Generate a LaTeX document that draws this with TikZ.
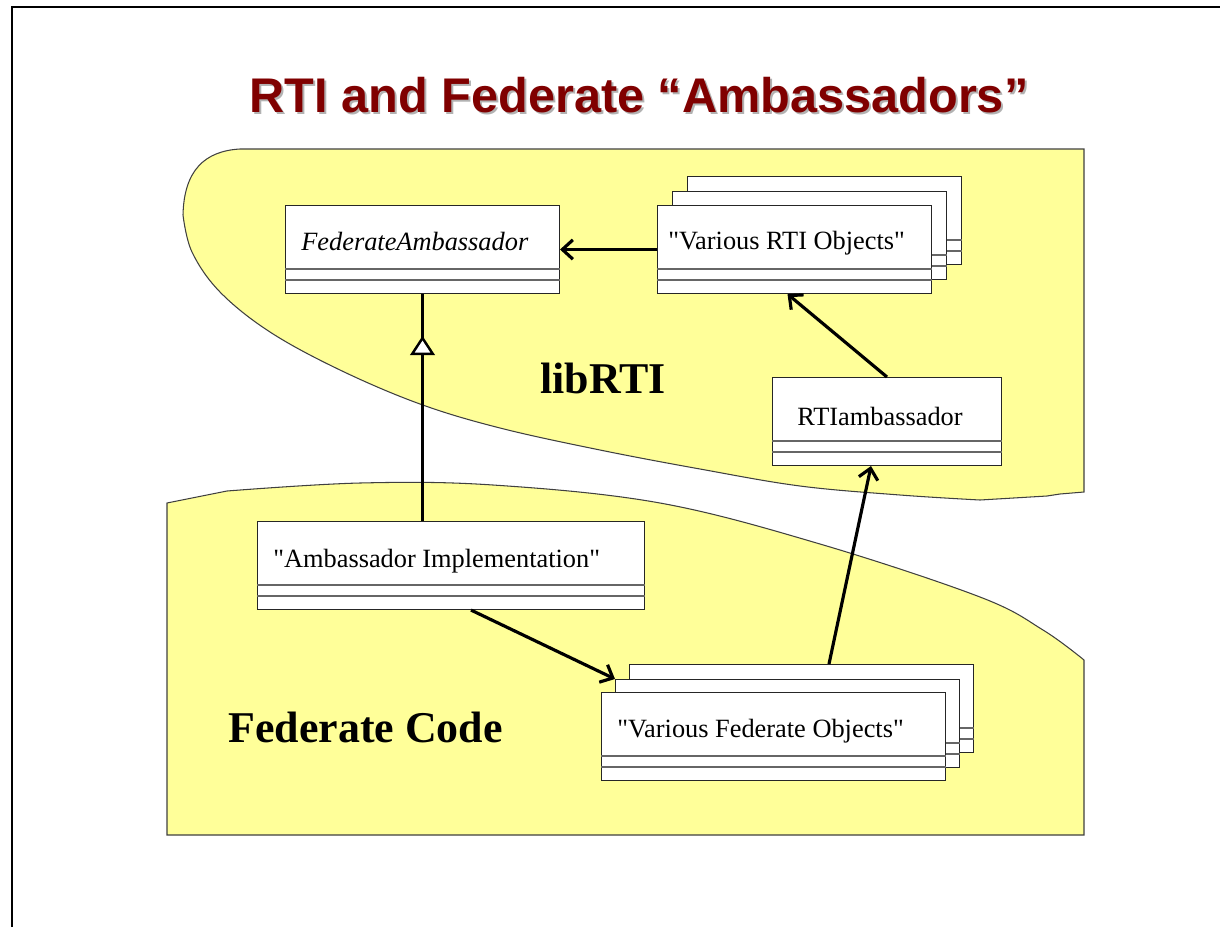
\documentclass[tikz,border=0pt]{standalone}
\usepackage{fontspec}
\setmainfont{Liberation Serif}
\newfontfamily\titlefont{Liberation Sans}
\usetikzlibrary{arrows.meta,decorations.markings}
\definecolor{pad}{HTML}{FFFF99}
\definecolor{maroon}{HTML}{800000}
\tikzset{region/.style={fill=pad,draw=black!75,line width=.6pt},
  cls/.style={draw=black!85,fill=white,line width=.6pt,minimum height=1.76cm,anchor=north west,inner sep=0pt},
  cmp/.style={draw=black!60,line width=.7pt},
  ctext/.style={anchor=base west,inner sep=0pt,font=\fontsize{15}{18}\selectfont},
  area/.style={anchor=base west,inner sep=0pt,font=\bfseries\fontsize{25}{30}\selectfont},
  ttl/.style={anchor=base,inner sep=0pt,font=\titlefont\bfseries\fontsize{27.7}{33}\selectfont},
  link/.style={line width=1.8pt,-{Straight Barb[length=6pt,width=11pt]}},
  gen/.style={line width=1.8pt,postaction={decorate},decoration={markings,
    mark=at position .816 with {\arrow{Triangle[length=11pt,width=14pt,fill=white,line width=1.4pt]}}}}}
\newcommand{\umlclass}[3]{%
\node[cls,minimum width=#3] (#1) at (#2) {};
\draw[cmp] ([yshift=-1.28cm]#1.north west) -- ([yshift=-1.28cm]#1.north east)
  ([yshift=-1.5cm]#1.north west) -- ([yshift=-1.5cm]#1.north east);}
\newcommand{\dq}{\textquotedbl}
\begin{document}
\begin{tikzpicture}[x=.02cm,y=-.02cm]
\useasboundingbox (0,0) rectangle (1220,927);
\draw[line width=1.7pt] (12,927) -- (12,7) -- (1220,7);
\node[ttl,text=black!30] (title-s) at (641,114) {RTI and Federate “Ambassadors”};
\node[ttl,text=maroon] (title) at (639,112) {RTI and Federate “Ambassadors”};
% the two areas
\draw[region] (240,149) -- (1084,149) -- (1084,492) -- (1060,494) -- (1047,496)
  -- plot[smooth,tension=.6] coordinates {(980,500) (900,495) (800,486) (700,469) (600,450)
  (500,428) (420,404) (340,370) (270,332) (220,292) (192,252) (183,215)}
  .. controls (184,170) and (205,151) .. (240,149) -- cycle;
\draw[region] (1084,835) -- (167,835) -- (167,503)
  -- plot[smooth,tension=.6] coordinates {(227,491) (360,483) (493,485) (660,503)
  (820,544) (980,597) (1043,630) (1084,660)} -- cycle;
\node[area] (lib) at (540,393) {libRTI};
\node[area] (fed) at (228,742) {Federate Code};
% classes
\umlclass{fa}{285,205}{5.48cm}
\node[ctext] (fa-t) at ([xshift=.32cm,yshift=-.92cm]fa.north west) {\textit{FederateAmbassador}};
\umlclass{ro3}{687,176}{5.48cm}
\umlclass{ro2}{672,191}{5.48cm}
\umlclass{ro1}{657,205}{5.48cm}
\node[ctext] (ro-t) at ([xshift=.22cm,yshift=-.9cm]ro1.north west) {\dq Various RTI Objects\dq};
\umlclass{rta}{772,377}{4.58cm}
\node[ctext] (rta-t) at ([xshift=.5cm,yshift=-.96cm]rta.north west) {RTIambassador};
\umlclass{impl}{257,521}{7.74cm}
\node[ctext] (impl-t) at ([xshift=.32cm,yshift=-.92cm]impl.north west) {\dq Ambassador Implementation\dq};
\umlclass{vfo3}{629,664}{6.88cm}
\umlclass{vfo2}{615,679}{6.88cm}
\umlclass{vfo1}{601,692}{6.88cm}
\node[ctext] (vfo-t) at ([xshift=.32cm,yshift=-.9cm]vfo1.north west) {\dq Various Federate Objects\dq};
% connectors
\draw[link] (ro1.west) -- (fa.east);
\draw[gen] (impl.north -| fa.south) -- (fa.south);
\draw[link] (rta.north) -- ([xshift=-.14cm]ro1.south);
\draw[link] ([xshift=.4cm]impl.south) -- (vfo2.north west);
\draw[link] ([xshift=.55cm]vfo3.north) -- ([xshift=-.32cm]rta.south);
\end{tikzpicture}
\end{document}
